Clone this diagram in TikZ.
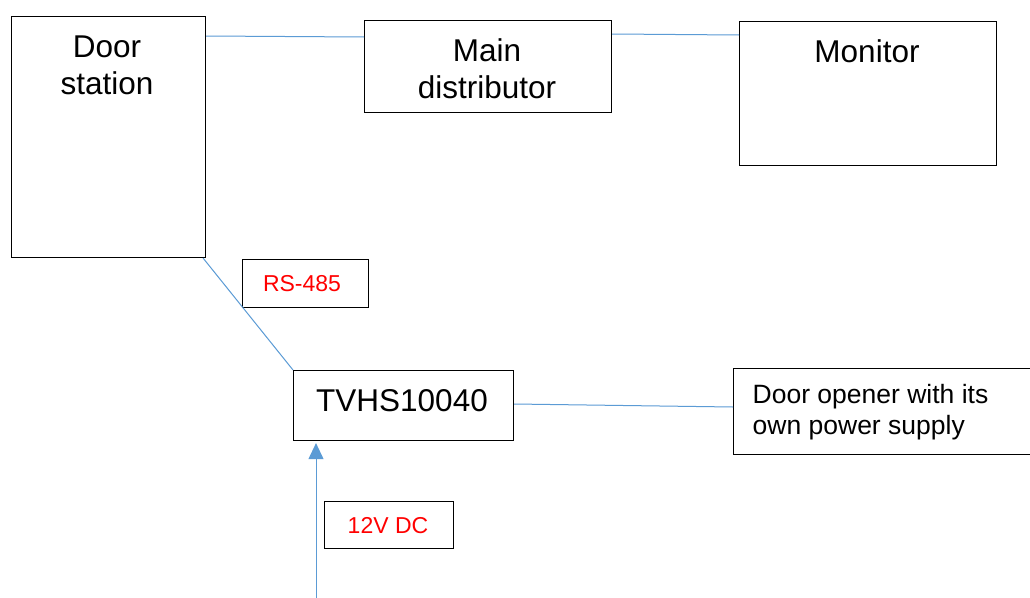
\documentclass[tikz,border=0pt]{standalone}
\usepackage{fontspec}
\setmainfont{Liberation Sans}
\usetikzlibrary{arrows.meta}
\definecolor{wire}{HTML}{5B9BD5}
\definecolor{lbl}{HTML}{FF0000}
\tikzset{
  box/.style={draw=black, line width=1.1pt, anchor=north west, inner sep=0pt},
  bigtext/.style={font=\fontsize{31.5}{37}\selectfont, inner sep=0pt, align=center},
  midtext/.style={font=\fontsize{26.5}{31}\selectfont, inner sep=0pt, align=left},
  redtext/.style={font=\fontsize{23}{28}\selectfont, text=lbl, inner sep=0pt},
  wireline/.style={draw=wire, line width=1pt},
}
\begin{document}
\begin{tikzpicture}[x=1pt,y=-1pt]
\clip (0,0) rectangle (1030,597);
\fill[white] (0,0) rectangle (1030,597);
% boxes
\node[box, minimum width=194pt, minimum height=241pt] (door) at (11,16) {};
\node[box, minimum width=247pt, minimum height=92pt] (main) at (364,20) {};
\node[box, minimum width=257pt, minimum height=144pt] (mon) at (739,21) {};
\node[box, minimum width=126pt, minimum height=48pt] (rs) at (242,259) {};
\node[box, minimum width=220pt, minimum height=70pt] (tv) at (293,370) {};
\node[box, minimum width=300pt, minimum height=86pt] (open) at (733,368) {};
\node[box, minimum width=129pt, minimum height=47pt] (dc) at (324,501) {};
% texts
\node[bigtext, anchor=north] (doort) at (107,35.5) {Door\\station};
\node[bigtext, anchor=north] (maint) at (487,38.5) {Main\\distributor};
\node[bigtext, anchor=north] (mont) at (867,39) {Monitor};
\node[bigtext, anchor=base] (tvt) at (402,411) {TVHS10040};
\node[midtext, anchor=north west] (opent) at (752.5,384) {Door opener with its\\own power supply};
\node[redtext, anchor=base] (rst) at (302,291) {RS-485};
\node[redtext, anchor=base] (dct) at (388,533) {12V DC};
% connectors
\draw[wireline] ([yshift=-20pt]door.north east) -- ([yshift=-17pt]main.north west);
\draw[wireline] ([yshift=-14pt]main.north east) -- ([yshift=-14pt]mon.north west);
\draw[wireline] ([xshift=-3pt]door.south east) -- (tv.north west);
\draw[wireline] ([yshift=-34pt]tv.north east) -- ([yshift=-39pt]open.north west);
\coordinate (pwr) at (316,600);
\draw[wireline, -{Triangle[length=16pt,width=15pt]}] (pwr) -- ([yshift=-2pt]pwr |- tv.south);
\end{tikzpicture}
\end{document}
